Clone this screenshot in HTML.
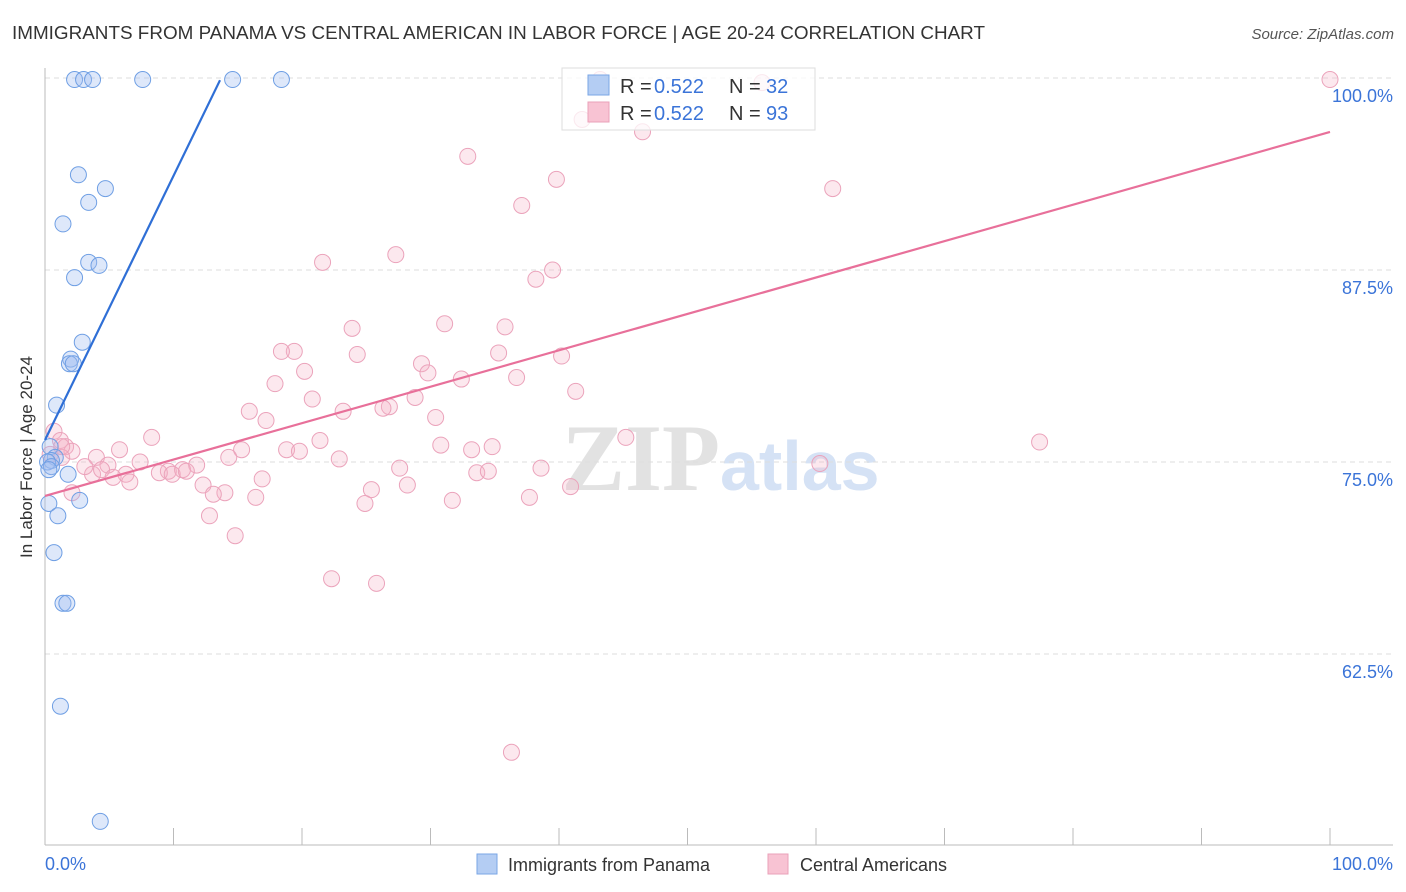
<!DOCTYPE html>
<html><head><meta charset="utf-8">
<style>
body{margin:0;background:#fff;font-family:"Liberation Sans",sans-serif;}
svg{display:block}
</style></head>
<body>
<svg id="chart" width="1406" height="892">
<text x="12" y="39" font-size="18" fill="#333" textLength="973" lengthAdjust="spacingAndGlyphs">IMMIGRANTS FROM PANAMA VS CENTRAL AMERICAN IN LABOR FORCE | AGE 20-24 CORRELATION CHART</text>
<text x="1394" y="39" font-size="15" fill="#555" font-style="italic" text-anchor="end">Source: ZipAtlas.com</text>
<text x="720" y="490" font-size="95" fill="#e2e2e2" text-anchor="end" font-family="Liberation Serif,serif" font-weight="bold">ZIP</text>
<text x="720" y="490" font-size="70" fill="#d5e2f5" font-weight="bold">atlas</text>
<g id="grid"></g>
<g id="marks"></g>
<text x="32" y="457" font-size="17" fill="#333" text-anchor="middle" transform="rotate(-90 32 457)">In Labor Force | Age 20-24</text>
<g>
<rect x="562" y="68" width="253" height="62" fill="rgba(255,255,255,0.75)" stroke="#ddd"/>
<rect x="588" y="75" width="21" height="20" fill="#b4cdf3" stroke="#7aa6e6"/>
<text x="620" y="93" font-size="20" fill="#333">R =</text>
<text x="654" y="93" font-size="20" fill="#3b74d8">0.522</text>
<text x="729" y="93" font-size="20" fill="#333">N =</text>
<text x="766" y="93" font-size="20" fill="#3b74d8">32</text>
<rect x="588" y="102" width="21" height="20" fill="#f8c3d3" stroke="#eaa0b8"/>
<text x="620" y="120" font-size="20" fill="#333">R =</text>
<text x="654" y="120" font-size="20" fill="#3b74d8">0.522</text>
<text x="729" y="120" font-size="20" fill="#333">N =</text>
<text x="766" y="120" font-size="20" fill="#3b74d8">93</text>
</g>
<g>
<rect x="477" y="854" width="20" height="20" fill="#b4cdf3" stroke="#7aa6e6"/>
<text x="508" y="871" font-size="18" fill="#333">Immigrants from Panama</text>
<rect x="768" y="854" width="20" height="20" fill="#f8c3d3" stroke="#eaa0b8"/>
<text x="800" y="871" font-size="18" fill="#333">Central Americans</text>
</g>
</svg>
<script>
const yTicks=[62.5,75,87.5,100];
const yTickLabels=["62.5%","75.0%","87.5%","100.0%"];
const xTickLabels=["0.0%","100.0%"];
const panamaX=[2.3,3.0,3.7,7.6,14.6,18.4,2.6,4.7,3.4,1.4,3.4,4.2,2.3,2.9,2.0,1.9,2.2,0.9,0.4,0.8,0.5,0.2,0.5,0.3,1.8,2.7,0.3,1.0,0.7,1.4,1.7,1.2,4.3];
const panamaY=[99.9,99.9,99.9,99.9,99.9,99.9,93.7,92.8,91.9,90.5,88.0,87.8,87.0,82.8,81.7,81.4,81.4,78.7,76.0,75.3,75.1,75.0,74.7,74.5,74.2,72.5,72.3,71.5,69.1,65.8,65.8,59.1,51.6];
const centralX=[100,43.2,55.8,41.8,46.5,32.9,39.8,61.3,37.1,27.3,21.6,39.5,38.2,31.1,35.8,23.9,19.4,18.4,35.3,24.3,40.2,29.3,20.2,29.8,32.4,36.7,17.9,41.3,28.8,20.8,15.9,26.8,26.3,23.2,30.4,17.2,77.4,45.2,8.3,21.4,30.8,34.8,33.2,18.8,15.3,19.8,0.7,1.2,1.6,2.1,0.4,5.8,4.0,7.4,1.3,4.9,14.3,22.9,11.8,9.6,10.7,8.9,9.9,11.0,27.6,6.3,3.7,4.4,5.3,6.6,38.6,60.3,33.6,34.5,16.9,12.3,14.0,13.1,25.4,28.2,40.9,2.1,31.7,37.7,16.4,24.9,12.8,14.8,22.3,25.8,36.3,3.1,1.3];
const centralY=[99.9,99.9,99.7,97.3,96.5,94.9,93.4,92.8,91.7,88.5,88.0,87.5,86.9,84.0,83.8,83.7,82.2,82.2,82.1,82.0,81.9,81.4,80.9,80.8,80.4,80.5,80.1,79.6,79.2,79.1,78.3,78.6,78.5,78.3,77.9,77.7,76.3,76.6,76.6,76.4,76.1,76.0,75.8,75.8,75.8,75.7,77.0,76.4,76.0,75.7,75.5,75.8,75.3,75.0,75.3,74.8,75.3,75.2,74.8,74.4,74.5,74.3,74.2,74.4,74.6,74.2,74.2,74.5,74.0,73.7,74.6,74.9,74.3,74.4,73.9,73.5,73.0,72.9,73.2,73.5,73.4,73.0,72.5,72.7,72.7,72.3,71.5,70.2,67.4,67.1,56.1,74.7,76.0];
const panamaFit=[76.43,1.72,0,13.62];   // intercept, slope, xStart, xEnd
const centralFit=[72.79,0.237,0,100];

const X0=45,X1=1330,YTOP=78,YPER=15.36;
const sx=v=>X0+(X1-X0)*v/100;
const sy=v=>YTOP+(100-v)*YPER;
const NS="http://www.w3.org/2000/svg";
const grid=document.getElementById('grid'),marks=document.getElementById('marks');
function mk(tag,attrs,parent){const e=document.createElementNS(NS,tag);for(const k in attrs)e.setAttribute(k,attrs[k]);parent.appendChild(e);return e;}

yTicks.forEach((t,i)=>{
 const g=mk('line',{x1:X0,x2:1393,y1:sy(t),y2:sy(t),stroke:'#ddd','stroke-dasharray':'5,4'},grid);
 
 
 const l=mk('text',{x:1393,y:sy(t)+24,'font-size':18,fill:'#3b74d8','text-anchor':'end'},grid);
 l.textContent=yTickLabels[i];
 
 
});
const ax=mk('line',{x1:X0,x2:X0,y1:68,y2:845,stroke:'#bbb'},grid);


const bx=mk('line',{x1:X0,x2:1393,y1:845,y2:845,stroke:'#bbb'},grid);


for(let i=1;i<=10;i++){
 const t=mk('line',{x1:sx(i*10),x2:sx(i*10),y1:828,y2:845,stroke:'#bbb'},grid);
 
 
}
[[0,'start',45],[1,'end',1393]].forEach(([i,a,x])=>{
 const l=mk('text',{x:x,y:870,'font-size':18,fill:'#3b74d8','text-anchor':a},grid);
 l.textContent=xTickLabels[i];
 
 
});

centralX.forEach((x,i)=>{
 const c=mk('circle',{cx:sx(x),cy:sy(centralY[i]),r:8,fill:'rgba(246,178,200,0.3)',stroke:'#eba3bb','stroke-width':1},marks);
 
 
});
panamaX.forEach((x,i)=>{
 const c=mk('circle',{cx:sx(x),cy:sy(panamaY[i]),r:8,fill:'rgba(160,190,240,0.35)',stroke:'#6f9fe4','stroke-width':1},marks);
 
 
});
function fit(f,color,name){
 const l=mk('line',{x1:sx(f[2]),y1:sy(f[0]+f[1]*f[2]),x2:sx(f[3]),y2:sy(f[0]+f[1]*f[3]),stroke:color,'stroke-width':2.2},marks);
 
 
}
fit(centralFit,'#e8709a','trendline-central');
fit(panamaFit,'#2f6fd6','trendline-panama');
</script>
</body></html>
